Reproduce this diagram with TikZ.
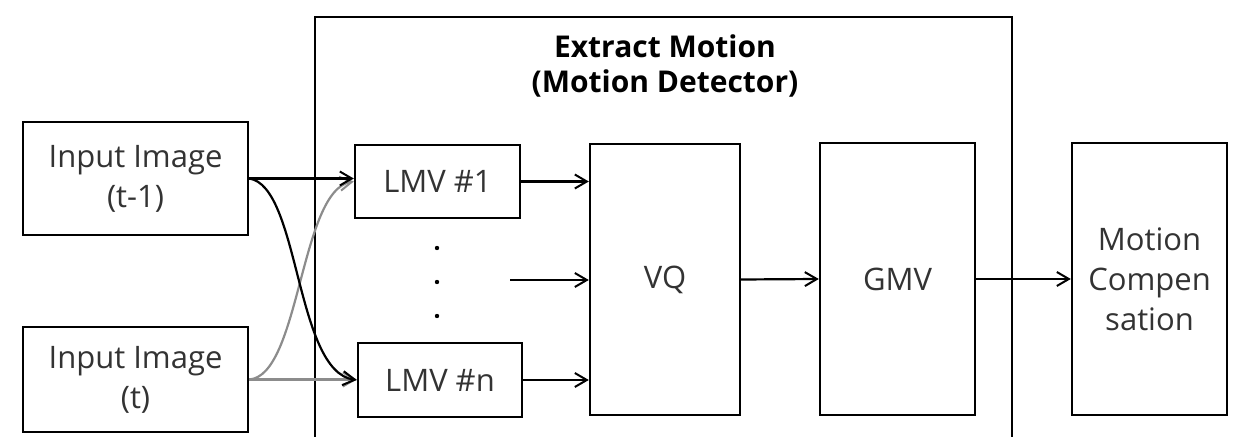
\documentclass[tikz,border=0pt]{standalone}
\usepackage{fontspec}
\setmainfont{Open Sans}
\usetikzlibrary{arrows.meta}
\begin{document}
\begin{tikzpicture}[x=0.5pt,y=-0.5pt,
  blk/.style={draw=black,line width=1.2pt,rectangle,inner sep=0pt,align=center,
    font=\fontsize{15.5}{20}\selectfont\color{black!80}},
  arr/.style={line width=1.1pt,-{Straight Barb[length=6pt,width=7pt,line width=1pt]}},
  garr/.style={arr,draw=black!45},
  frame/.style={line width=1.2pt,draw=black}]
\useasboundingbox (0,0) rectangle (1235,437);
\node[blk,minimum width=112.5pt,minimum height=56.5pt] (in1) at (135.5,178.5) {Input Image\\(t-1)};
\node[blk,minimum width=112.5pt,minimum height=52.5pt] (in2) at (135.5,379.5) {Input Image\\(t)};
\node[blk,minimum width=82.5pt,minimum height=36.5pt] (lmv1) at (437.5,181.5) {LMV \#1};
\node[blk,minimum width=82pt,minimum height=37pt] (lmvn) at (440,380) {LMV \#n};
\node[blk,minimum width=75pt,minimum height=135.5pt] (vq) at (665,279.5) {VQ};
\node[blk,minimum width=77.5pt,minimum height=136pt] (gmv) at (897.5,279) {GMV};
\node[blk,minimum width=77.5pt,minimum height=136pt] (mc) at (1149.5,279) {Motion\\Compen\\sation};
\draw[frame] (315,437) -- (315,17) -- (1012,17) -- (1012,437);
\node[align=center,font=\fontsize{15}{17.5}\bfseries\selectfont] (title) at (665,66) {Extract Motion\\(Motion Detector)};
\foreach \y/\n in {248/d1,282/d2,316/d3}
  \fill (437,\y) circle (2.2) coordinate (\n);
\coordinate (mid) at (510,280);
% inputs to LMVs
\draw[garr] (in2.east) .. controls (300,376) and (300,190) .. (lmv1.west);
\draw[garr] (in2.east) -- (in2.east -| lmvn.west);
\draw[arr] (in1.east) -- (in1.east -| lmv1.west);
\draw[arr] (in1.east) .. controls (300,186) and (295,372) .. (lmvn.west);
% LMVs to VQ
\draw[arr] (lmv1.east) -- (lmv1.east -| vq.west);
\draw[arr] (mid) -- (mid -| vq.west);
\draw[arr] (lmvn.east) -- (lmvn.east -| vq.west);
\draw[arr] (vq.east) -- (gmv.west);
\draw[arr] (gmv.east) -- (mc.west);
\end{tikzpicture}
\end{document}
